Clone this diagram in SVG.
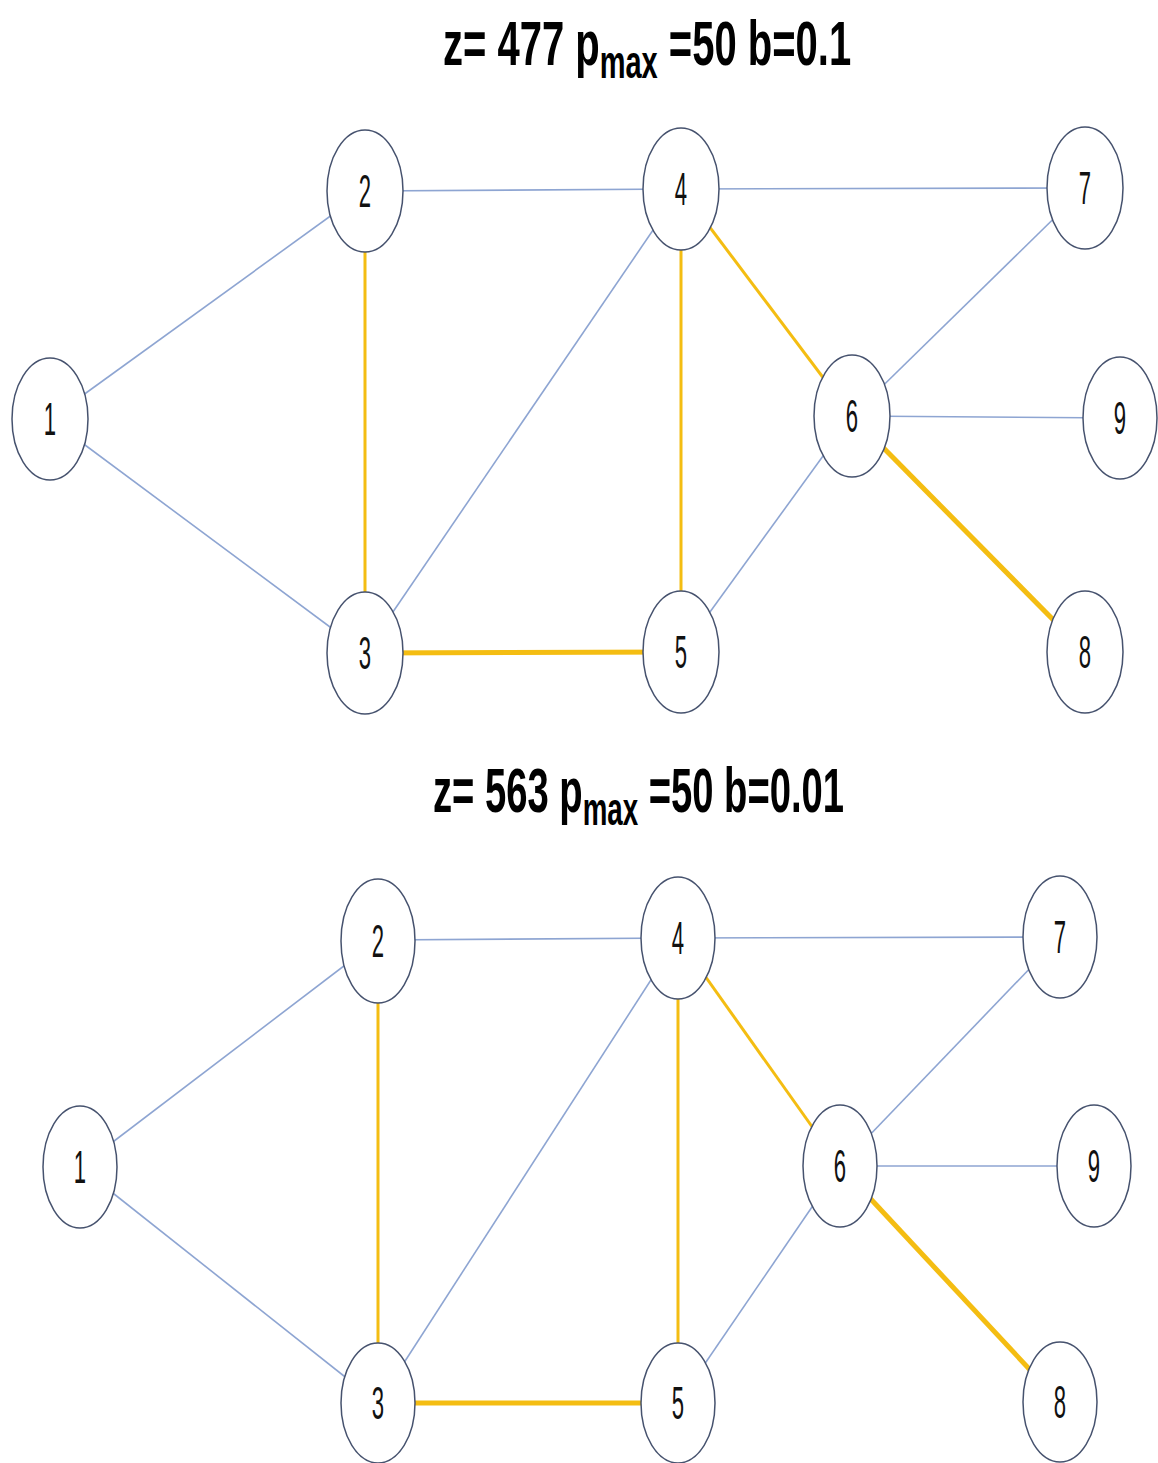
<svg xmlns="http://www.w3.org/2000/svg" width="1158" height="1463" viewBox="0 0 1158 1463">
<style>
.b{stroke:#8ea5d2;stroke-width:1.6;fill:none}
.y{stroke:#f4bd12;stroke-width:3;fill:none}
.yt{stroke:#f4bd12;stroke-width:5;fill:none}
.n ellipse{fill:#fff;stroke:#46526e;stroke-width:1.5}
.n text{font-family:"Liberation Sans",Arial,sans-serif;font-size:26px;fill:#111;text-anchor:middle}
.t{font-family:"Liberation Sans",Arial,sans-serif;font-weight:bold;font-size:40px;fill:#000}
</style>
<rect width="1158" height="1463" fill="#fff"/>
<g id="title1"><text class="t" transform="translate(443,65) scale(1,1.57)">z= 477 p<tspan font-size="29" dy="8">max</tspan><tspan dy="-8"> =50 b=0.1</tspan></text></g>
<g id="title2"><text class="t" transform="translate(433,812) scale(0.955,1.57)">z= 563 p<tspan font-size="29" dy="8">max</tspan><tspan dy="-8"> =50 b=0.01</tspan></text></g>
<g id="connectors">
<line class="b" x1="50" y1="419" x2="365" y2="191"/>
<line class="b" x1="50" y1="419" x2="365" y2="653"/>
<line class="b" x1="365" y1="191" x2="681" y2="189"/>
<line class="b" x1="681" y1="189" x2="1085" y2="188"/>
<line class="y" x1="365" y1="191" x2="365" y2="653"/>
<line class="b" x1="365" y1="653" x2="681" y2="189"/>
<line class="y" x1="681" y1="189" x2="681" y2="652"/>
<line class="y" x1="681" y1="189" x2="852" y2="416"/>
<line class="yt" x1="365" y1="653" x2="681" y2="652"/>
<line class="b" x1="681" y1="652" x2="852" y2="416"/>
<line class="b" x1="852" y1="416" x2="1085" y2="188"/>
<line class="b" x1="852" y1="416" x2="1120" y2="418"/>
<line class="yt" x1="852" y1="416" x2="1085" y2="652"/>
<line class="b" x1="80" y1="1167" x2="378" y2="940"/>
<line class="b" x1="80" y1="1167" x2="378" y2="1403"/>
<line class="b" x1="378" y1="940" x2="678" y2="938"/>
<line class="b" x1="678" y1="938" x2="1060" y2="937"/>
<line class="y" x1="378" y1="940" x2="378" y2="1403"/>
<line class="b" x1="378" y1="1403" x2="678" y2="938"/>
<line class="y" x1="678" y1="938" x2="678" y2="1403"/>
<line class="y" x1="678" y1="938" x2="840" y2="1166"/>
<line class="yt" x1="378" y1="1403" x2="678" y2="1403"/>
<line class="b" x1="678" y1="1403" x2="840" y2="1166"/>
<line class="b" x1="840" y1="1166" x2="1060" y2="937"/>
<line class="b" x1="840" y1="1166" x2="1094" y2="1166"/>
<line class="yt" x1="840" y1="1166" x2="1060" y2="1402"/>
</g>
<g id="a1" class="n"><ellipse cx="50" cy="419" rx="38" ry="61"/><text transform="translate(50,435) scale(0.85,1.75)">1</text></g>
<g id="a2" class="n"><ellipse cx="365" cy="191" rx="38" ry="61"/><text transform="translate(365,207) scale(0.85,1.75)">2</text></g>
<g id="a3" class="n"><ellipse cx="365" cy="653" rx="38" ry="61"/><text transform="translate(365,669) scale(0.85,1.75)">3</text></g>
<g id="a4" class="n"><ellipse cx="681" cy="189" rx="38" ry="61"/><text transform="translate(681,205) scale(0.85,1.75)">4</text></g>
<g id="a5" class="n"><ellipse cx="681" cy="652" rx="38" ry="61"/><text transform="translate(681,668) scale(0.85,1.75)">5</text></g>
<g id="a6" class="n"><ellipse cx="852" cy="416" rx="38" ry="61"/><text transform="translate(852,432) scale(0.85,1.75)">6</text></g>
<g id="a7" class="n"><ellipse cx="1085" cy="188" rx="38" ry="61"/><text transform="translate(1085,204) scale(0.85,1.75)">7</text></g>
<g id="a8" class="n"><ellipse cx="1085" cy="652" rx="38" ry="61"/><text transform="translate(1085,668) scale(0.85,1.75)">8</text></g>
<g id="a9" class="n"><ellipse cx="1120" cy="418" rx="37" ry="61"/><text transform="translate(1120,434) scale(0.85,1.75)">9</text></g>
<g id="b1" class="n"><ellipse cx="80" cy="1167" rx="37" ry="61"/><text transform="translate(80,1183) scale(0.85,1.75)">1</text></g>
<g id="b2" class="n"><ellipse cx="378" cy="941" rx="37" ry="62"/><text transform="translate(378,957) scale(0.85,1.75)">2</text></g>
<g id="b3" class="n"><ellipse cx="378" cy="1403" rx="37" ry="60"/><text transform="translate(378,1419) scale(0.85,1.75)">3</text></g>
<g id="b4" class="n"><ellipse cx="678" cy="938" rx="37" ry="61"/><text transform="translate(678,954) scale(0.85,1.75)">4</text></g>
<g id="b5" class="n"><ellipse cx="678" cy="1403" rx="37" ry="60"/><text transform="translate(678,1419) scale(0.85,1.75)">5</text></g>
<g id="b6" class="n"><ellipse cx="840" cy="1166" rx="37" ry="61"/><text transform="translate(840,1182) scale(0.85,1.75)">6</text></g>
<g id="b7" class="n"><ellipse cx="1060" cy="937" rx="37" ry="61"/><text transform="translate(1060,953) scale(0.85,1.75)">7</text></g>
<g id="b8" class="n"><ellipse cx="1060" cy="1402" rx="37" ry="60"/><text transform="translate(1060,1418) scale(0.85,1.75)">8</text></g>
<g id="b9" class="n"><ellipse cx="1094" cy="1166" rx="37" ry="61"/><text transform="translate(1094,1182) scale(0.85,1.75)">9</text></g>
</svg>
